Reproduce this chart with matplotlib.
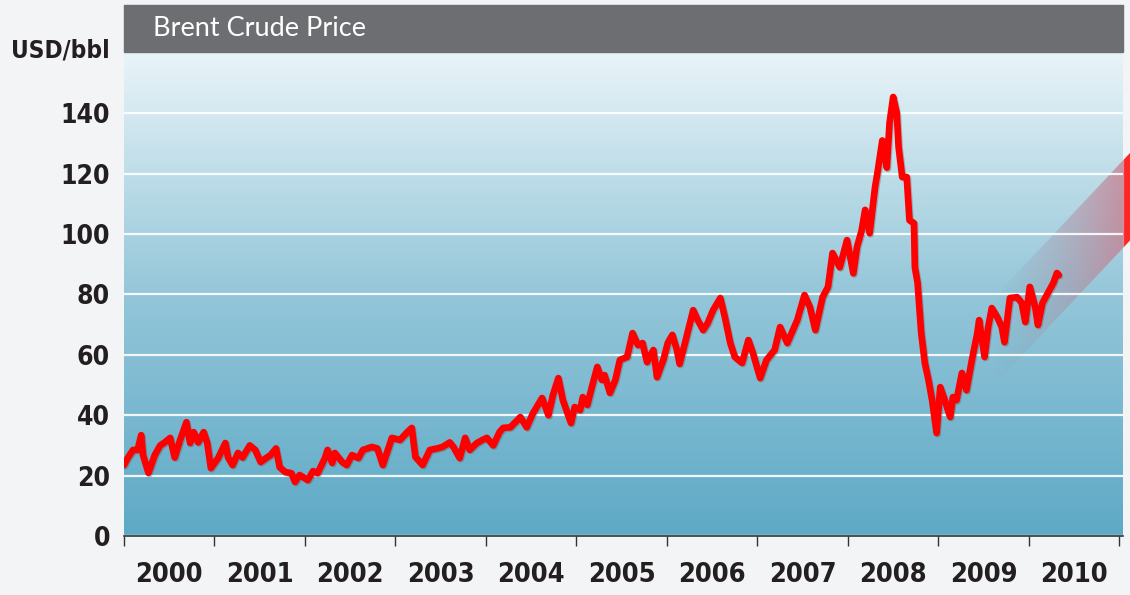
import numpy as np
import matplotlib
matplotlib.use('Agg')
import matplotlib.pyplot as plt
import matplotlib.patheffects as pe
from matplotlib.colors import LinearSegmentedColormap
from matplotlib.patches import Rectangle, Polygon
from matplotlib import font_manager

# Brent daily price (decimal year, USD/bbl)
year = [2000.00, 2000.04, 2000.10, 2000.15, 2000.19, 2000.21, 2000.27, 2000.34, 2000.40, 2000.45,
        2000.51, 2000.56, 2000.62, 2000.69, 2000.73, 2000.77, 2000.82, 2000.88, 2000.92, 2000.96,
        2001.04, 2001.12, 2001.15, 2001.20, 2001.26, 2001.31, 2001.39, 2001.45, 2001.51, 2001.57,
        2001.62, 2001.68, 2001.72, 2001.78, 2001.85, 2001.89, 2001.94, 2001.98, 2002.03, 2002.09,
        2002.14, 2002.22, 2002.25, 2002.30, 2002.33, 2002.41, 2002.46, 2002.52, 2002.59, 2002.64,
        2002.74, 2002.80, 2002.86, 2002.96, 2003.05, 2003.13, 2003.18, 2003.22, 2003.30, 2003.38,
        2003.46, 2003.52, 2003.60, 2003.64, 2003.71, 2003.77, 2003.82, 2003.90, 2003.96, 2004.01,
        2004.08, 2004.15, 2004.19, 2004.27, 2004.38, 2004.45, 2004.52, 2004.62, 2004.69, 2004.74,
        2004.80, 2004.85, 2004.90, 2004.94, 2004.98, 2005.04, 2005.07, 2005.12, 2005.17, 2005.23,
        2005.28, 2005.31, 2005.37, 2005.43, 2005.48, 2005.56, 2005.62, 2005.68, 2005.73, 2005.78,
        2005.85, 2005.89, 2005.96, 2006.01, 2006.06, 2006.11, 2006.14, 2006.20, 2006.29, 2006.34,
        2006.40, 2006.45, 2006.51, 2006.59, 2006.64, 2006.70, 2006.75, 2006.83, 2006.90, 2006.95,
        2007.03, 2007.10, 2007.19, 2007.25, 2007.33, 2007.44, 2007.52, 2007.58, 2007.64, 2007.72,
        2007.78, 2007.83, 2007.91, 2007.99, 2008.06, 2008.10, 2008.15, 2008.19, 2008.24, 2008.30,
        2008.33, 2008.38, 2008.43, 2008.46, 2008.50, 2008.54, 2008.56, 2008.60, 2008.65, 2008.68,
        2008.73, 2008.74, 2008.77, 2008.81, 2008.85, 2008.89, 2008.93, 2008.98, 2009.02, 2009.07,
        2009.13, 2009.16, 2009.20, 2009.26, 2009.31, 2009.37, 2009.43, 2009.45, 2009.51, 2009.55,
        2009.59, 2009.65, 2009.70, 2009.73, 2009.79, 2009.87, 2009.92, 2009.96, 2010.01, 2010.07,
        2010.10, 2010.15, 2010.21, 2010.27, 2010.31, 2010.33]
price = [23.5, 25.8, 28.5, 28.5, 33.4, 26.8, 20.9, 26.8, 30.0, 31.0,
         32.5, 26.0, 31.8, 37.7, 30.8, 34.4, 31.0, 34.4, 30.8, 22.5,
         25.8, 30.8, 26.0, 23.5, 27.5, 26.0, 30.0, 28.5, 24.5, 25.8,
         26.8, 29.0, 22.8, 21.2, 20.8, 17.9, 20.2, 19.5, 18.5, 21.5,
         20.8, 25.8, 28.5, 24.2, 27.5, 24.5, 23.5, 26.8, 25.8, 28.5,
         29.5, 29.0, 23.5, 32.5, 31.8, 34.4, 35.8, 26.2, 23.5, 28.5,
         29.0, 29.5, 31.0, 29.5, 25.8, 32.5, 28.5, 30.8, 31.8, 32.5,
         30.0, 34.4, 35.8, 36.0, 39.4, 36.0, 40.7, 45.7, 40.0, 46.7,
         52.3, 45.0, 40.7, 37.4, 42.7, 41.7, 46.0, 43.4, 49.3, 56.0,
         51.7, 53.3, 47.4, 51.7, 58.3, 59.3, 67.2, 63.2, 63.9, 57.6,
         61.6, 52.6, 58.3, 64.0, 66.6, 61.6, 57.0, 64.0, 74.8, 71.5,
         68.2, 70.5, 74.8, 78.8, 72.5, 63.9, 59.3, 57.3, 64.9, 60.6,
         52.3, 58.3, 61.6, 69.2, 63.9, 71.5, 79.8, 75.8, 68.2, 79.1,
         82.5, 93.7, 89.0, 98.0, 87.0, 95.7, 101.0, 108.0, 100.3, 115.6,
         121.0, 131.0, 122.0, 136.8, 145.4, 140.0, 128.8, 118.9, 118.9, 104.6,
         103.6, 89.0, 83.8, 67.2, 57.3, 51.7, 45.0, 34.1, 49.3, 45.0,
         39.4, 46.0, 45.0, 54.0, 48.3, 58.3, 67.2, 71.5, 59.3, 69.2,
         75.5, 72.5, 69.2, 64.2, 78.8, 79.1, 77.2, 70.9, 82.5, 75.8,
         69.9, 77.2, 80.5, 83.8, 87.1, 86.4]

y_ticks = [0, 20, 40, 60, 80, 100, 120, 140]
year_ticks = list(range(2000, 2012))
year_labels = [str(y) for y in range(2000, 2011)]

# forecast band: centre line start/end and half height (USD/bbl)
band_x = [2009.6, 2011.2]
band_y = [64, 115]
band_half = 14.5

# condensed bold face if there is one
cond = [f for f in font_manager.fontManager.ttflist
        if 'Condensed' in f.fname and 'Bold' in f.fname and 'Oblique' not in f.fname]
print([f.fname for f in cond])


def bold(size):
    if cond:
        return font_manager.FontProperties(fname=cond[0].fname, size=size)
    return font_manager.FontProperties(family='DejaVu Sans', weight='bold', size=size)


fig = plt.figure(figsize=(11.3, 5.95), dpi=100)
fig.patch.set_facecolor('#f3f4f6')
ax = fig.add_axes([124 / 1130, 1 - 536 / 595, 999 / 1130, 484 / 595])

# blue gradient background
bg = LinearSegmentedColormap.from_list('bg', ['#5ea9c6', '#94c6d9', '#e9f4f8'])
grad = np.linspace(0, 1, 256).reshape(-1, 1)
ax.imshow(grad, cmap=bg, origin='lower', extent=[0, 1, 0, 1], transform=ax.transAxes,
          aspect='auto', zorder=0)

# forecast band (grey -> red gradient)
xs = np.linspace(band_x[0], band_x[1], 400)
frac = (xs - band_x[0]) / (band_x[1] - band_x[0])
c0 = np.array([0.55, 0.60, 0.68])
c1 = np.array([0.82, 0.45, 0.52])
rgba = np.zeros((1, len(xs), 4))
rgba[0, :, :3] = c0 + (c1 - c0) * frac[:, None]
rgba[0, :, 3] = np.clip(frac * 0.8, 0, 1)
rgba[0, xs > 2011.04] = [1.0, 0.15, 0.15, 1.0]
poly = Polygon([(band_x[0], band_y[0] + band_half), (band_x[1], band_y[1] + band_half),
                (band_x[1], band_y[1] - band_half), (band_x[0], band_y[0] - band_half)],
               transform=ax.transData)
im = ax.imshow(rgba, extent=[band_x[0], band_x[1], band_y[0] - band_half, band_y[1] + band_half],
               aspect='auto', zorder=0.8, interpolation='bilinear')
im.set_clip_path(poly)
im.set_clip_box(fig.bbox)

ax.plot(year, price, color='#ff0000', lw=4.8, solid_joinstyle='round', solid_capstyle='round',
        zorder=3,
        path_effects=[pe.SimpleLineShadow(offset=(0.8, -0.8), shadow_color='#555555', alpha=0.35),
                      pe.Normal()])

ax.set_xlim(2000, 2011.04)
ax.set_ylim(0, 160.3)

ax.set_yticks(y_ticks)
ax.set_yticklabels([str(v) for v in y_ticks], fontproperties=bold(19), color='#231f20')
ax.tick_params(axis='y', length=0, pad=10)
ax.yaxis.grid(True, color='white', lw=1.6, alpha=0.9)

ax.set_xticks(year_ticks)
ax.set_xticklabels([])
ax.set_xticks([y + 0.5 for y in range(2000, 2011)], minor=True)
ax.set_xticklabels(year_labels, minor=True, fontproperties=bold(19.5), color='#231f20')
ax.tick_params(axis='x', which='major', length=7, width=1, color='#333333', direction='out')
ax.tick_params(axis='x', which='minor', length=0, pad=19)

for s in ['left', 'top', 'right']:
    ax.spines[s].set_visible(False)
ax.spines['bottom'].set_color('#333333')
ax.spines['bottom'].set_linewidth(1.2)

# title bar
fig.add_artist(Rectangle((124 / 1130, 1 - 52 / 595), 999 / 1130, 47 / 595,
                         transform=fig.transFigure, color='#6d6e71'))
fig.text(153 / 1130, 1 - 29 / 595, 'Brent Crude Price', color='white', fontsize=19.5,
         family=['Lato', 'DejaVu Sans'], ha='left', va='center')
fig.text(110 / 1130, 1 - 51 / 595, 'USD/bbl', ha='right', va='center',
         fontproperties=bold(17.5), color='#231f20')

fig.savefig('out.png', dpi=100, facecolor=fig.get_facecolor())
